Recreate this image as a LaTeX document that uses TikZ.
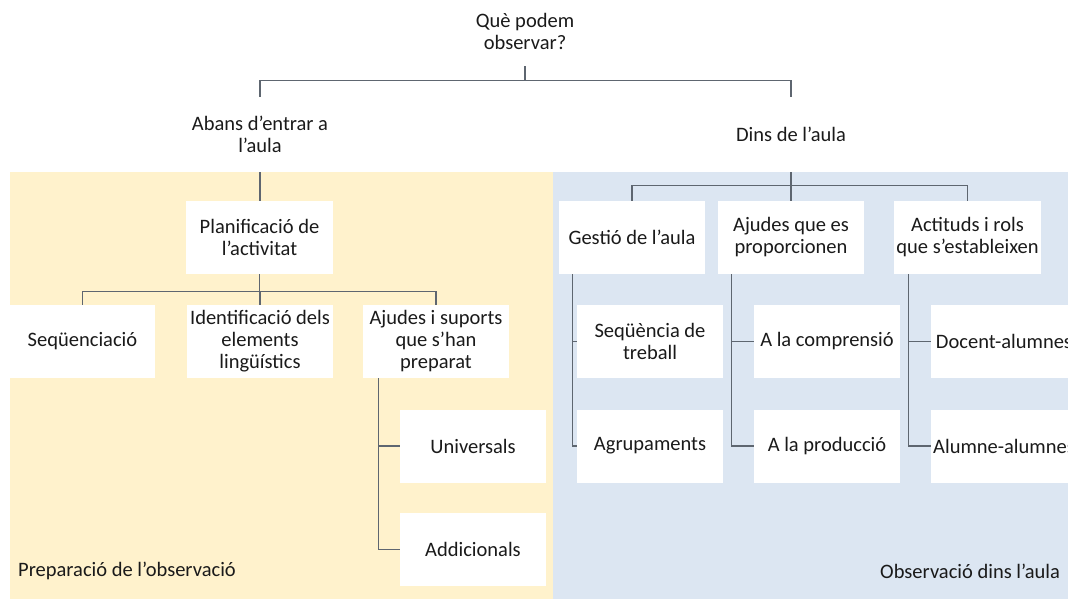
\documentclass[tikz,border=0pt]{standalone}
\usepackage{fontspec}
\setmainfont{Carlito}
\definecolor{panelY}{HTML}{FFF2CC}
\definecolor{panelB}{HTML}{DCE6F2}
\definecolor{lineG}{HTML}{5E6670}
\definecolor{txt}{HTML}{1A1A1A}
\begin{document}
\begin{tikzpicture}[x=1pt,y=-1pt,
  every node/.style={font=\fontsize{20.5}{22}\selectfont, text=txt, align=center, inner sep=0pt},
  box/.style={fill=white, minimum width=146pt, minimum height=73pt},
  head/.style={minimum width=160pt},
  conn/.style={draw=lineG, line width=1.2pt},
  lab/.style={font=\fontsize{20.5}{22}\selectfont}]
\useasboundingbox (0,0) rectangle (1068,599);
\clip (0,0) rectangle (1068,599);
% panels
\fill[panelY] (10,172) rectangle (552.5,599);
\fill[panelB] (552.5,172) rectangle (1068,599);
\node[lab, anchor=west] (lprep) at (18,571) {Preparació de l’observació};
\node[lab, anchor=west] (lobs) at (880,571) {Observació dins l’aula};
% top level
\node[head, minimum height=70pt] (q) at (525,31) {Què podem\\observar?};
\node[head, minimum height=75pt] (abans) at (260,134.5) {Abans d’entrar a\\l’aula};
\node[head, minimum height=75pt] (dins) at (791,134.5) {Dins de l’aula};
% left boxes
\node[box, minimum width=147pt] (plan) at (259.5,237.5) {Planificació de\\l’activitat};
\node[box, minimum width=145pt] (seq) at (82.5,341.5) {Seqüenciació};
\node[box] (ident) at (260,341.5) {Identificació dels\\elements\\lingüístics};
\node[box] (ajs) at (436,341.5) {Ajudes i suports\\que s’han\\preparat};
\node[box] (univ) at (473,446) {Universals};
\node[box] (addi) at (473,549.5) {Addicionals};
% right boxes
\node[box] (gest) at (632,237.5) {Gestió de l’aula};
\node[box] (ajq) at (791,237.5) {Ajudes que es\\proporcionen};
\node[box, minimum width=147pt] (act) at (967.5,237.5) {Actituds i rols\\que s’estableixen};
\node[box] (seqt) at (650,341.5) {Seqüència de\\treball};
\node[box] (agr) at (650,446) {Agrupaments};
\node[box] (comp) at (827,341.5) {A la comprensió};
\node[box] (prod) at (827,446) {A la producció};
\node[box] (doc) at (1004,341.5) {Docent-alumnes};
\node[box] (alum) at (1004,446) {Alumne-alumnes};
% connectors top
\coordinate (qj) at ([yshift=-14pt]q.south);
\draw[conn] (q.south) -- (qj);
\draw[conn] (qj) -| (abans.north);
\draw[conn] (qj) -| (dins.north);
% left connectors
\draw[conn] (abans.south) -- (plan.north -| abans.south);
\coordinate (pj) at ([yshift=-17pt]plan.south);
\draw[conn] (plan.south) -- (pj);
\draw[conn] (pj) -| (seq.north);
\draw[conn] (pj) -| (ident.north);
\draw[conn] (pj) -| (ajs.north);
\coordinate (ajsb) at ([xshift=16pt]ajs.south west);
\draw[conn] (ajsb) |- (univ.west);
\draw[conn] (ajsb) |- (addi.west);
% right connectors
\coordinate (dj) at ([yshift=-13pt]dins.south);
\draw[conn] (dins.south) -- (dj);
\draw[conn] (dj) -| (gest.north);
\draw[conn] (dj) -| (act.north);
\draw[conn] (dj) -- (ajq.north);
\coordinate (gb) at ([xshift=14pt]gest.south west);
\draw[conn] (gb) |- (seqt.west);
\draw[conn] (gb) |- (agr.west);
\coordinate (ab) at ([xshift=14pt]ajq.south west);
\draw[conn] (ab) |- (comp.west);
\draw[conn] (ab) |- (prod.west);
\coordinate (cb) at ([xshift=15pt]act.south west);
\draw[conn] (cb) |- (doc.west);
\draw[conn] (cb) |- (alum.west);
\end{tikzpicture}
\end{document}
